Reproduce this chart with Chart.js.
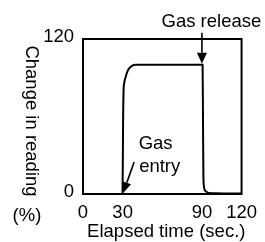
<!DOCTYPE html>
<html><head><meta charset="utf-8">
<script src="https://cdn.jsdelivr.net/npm/chart.js@4.4.1/dist/chart.umd.min.js"></script>
<style>html,body{margin:0;padding:0;background:#fff;}#wrap{width:265px;height:242px;}</style>
</head><body><div id="wrap"><canvas id="c" width="265" height="242"></canvas></div>
<script>
// Data
const elapsedTime     = [0, 10, 20, 29.9, 30.2, 30.4, 30.7, 31.2, 32.4, 33.5, 34.8, 37.3, 40, 50, 60, 70, 80, 90.5, 90.8, 91.1, 91.5, 92, 93, 94, 96, 100, 110, 120];
const changeInReading = [0, 0, 0, 0, 35, 62, 80, 86, 91, 94.5, 97, 99.3, 100, 100, 100, 100, 100, 100, 60, 15, 6, 3.5, 2, 1.3, 0.7, 0.5, 0.4, 0.3];
const xTickValues = [0, 30, 90, 120];
const yTickValues = [0, 120];
const xTitle = 'Elapsed time (sec.)';
const yTitle = 'Change in reading';
const yUnit = '(%)';
const annotationText = [['Gas release'], ['Gas', 'entry']];
const annotationX = [90, 30];
const annotationY = [100, 0];

const FONT = {family: '"Liberation Sans", Arial, sans-serif', size: 18.5};
const INK = '#000';

function arrow(ctx, x1, y1, x2, y2, headLen, headHalf) {
  const ang = Math.atan2(y2 - y1, x2 - x1);
  const bx = x2 - headLen * Math.cos(ang), by = y2 - headLen * Math.sin(ang);
  ctx.beginPath(); ctx.moveTo(x1, y1); ctx.lineTo(bx, by); ctx.stroke();
  ctx.beginPath();
  ctx.moveTo(x2, y2);
  ctx.lineTo(bx + headHalf * Math.sin(ang), by - headHalf * Math.cos(ang));
  ctx.lineTo(bx - headHalf * Math.sin(ang), by + headHalf * Math.cos(ang));
  ctx.closePath(); ctx.fill();
}

const decor = {
  id: 'decor',
  afterDraw(chart) {
    const {ctx, chartArea: a, scales: {x, y}} = chart;
    ctx.save();
    ctx.strokeStyle = INK; ctx.fillStyle = INK; ctx.lineWidth = 2;
    ctx.strokeRect(a.left, a.top, a.right - a.left, a.bottom - a.top);
    ctx.font = FONT.size + 'px ' + FONT.family;
    // x title
    ctx.textAlign = 'center'; ctx.textBaseline = 'middle';
    ctx.fillText(xTitle, (a.left + a.right) / 2 + 4, a.bottom + 38);
    // y title, rotated clockwise
    ctx.save();
    ctx.translate(25.5, (a.top + a.bottom) / 2 + 4.5);
    ctx.rotate(Math.PI / 2);
    ctx.textAlign = 'center'; ctx.textBaseline = 'alphabetic';
    ctx.fillText(yTitle, 0, 0);
    ctx.restore();
    ctx.textAlign = 'center'; ctx.textBaseline = 'alphabetic';
    ctx.fillText(yUnit, 27, a.bottom + 26.5);
    // Gas release
    let px = x.getPixelForValue(annotationX[0]), py = y.getPixelForValue(annotationY[0]);
    ctx.lineWidth = 1.6;
    arrow(ctx, px, py - 32, px, py - 1, 11, 5);
    ctx.textAlign = 'center';
    ctx.fillText(annotationText[0][0], px + 9.5, py - 38);
    // Gas entry
    px = x.getPixelForValue(annotationX[1]); py = y.getPixelForValue(annotationY[1]);
    arrow(ctx, px + 11.5, py - 32, px + 0.5, py - 1, 11, 4.5);
    ctx.textAlign = 'left';
    ctx.fillText(annotationText[1][0], px + 16, py - 45);
    ctx.fillText(annotationText[1][1], px + 16.5, py - 22);
    ctx.restore();
  }
};

new Chart(document.getElementById('c'), {
  type: 'line',
  data: {
    datasets: [{
      data: elapsedTime.map((t, i) => ({x: t, y: changeInReading[i]})),
      borderColor: INK, borderWidth: 2, pointRadius: 0,
      cubicInterpolationMode: 'monotone', clip: false, fill: false
    }]
  },
  options: {
    responsive: false, animation: false, devicePixelRatio: 1,
    layout: {padding: {left: 0, top: 39, right: 20, bottom: 0}},
    plugins: {legend: {display: false}, tooltip: {enabled: false}},
    scales: {
      x: {
        type: 'linear', min: 0, max: 120,
        afterBuildTicks: s => { s.ticks = xTickValues.map(v => ({value: v})); },
        afterFit: s => { s.height = 48; },
        grid: {display: false, drawTicks: false}, border: {display: false},
        ticks: {color: INK, font: FONT, padding: 8, maxRotation: 0, autoSkip: false},
        title: {display: false, text: xTitle}
      },
      y: {
        type: 'linear', min: 0, max: 120,
        afterBuildTicks: s => { s.ticks = yTickValues.map(v => ({value: v})); },
        afterFit: s => { s.width = 83; },
        grid: {display: false, drawTicks: false}, border: {display: false},
        ticks: {color: INK, font: FONT, padding: 9, labelOffset: -2, autoSkip: false}
      }
    }
  },
  plugins: [decor]
});
</script></body></html>
